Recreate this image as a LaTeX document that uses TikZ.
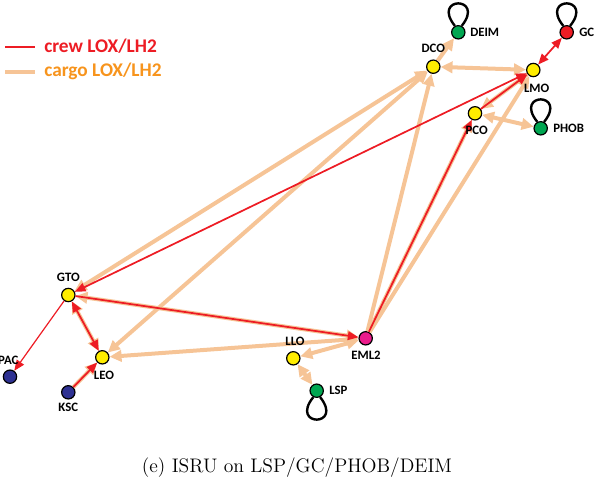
\documentclass[tikz,border=0pt]{standalone}
\usepackage{fontspec}
\newfontfamily\lblfont{Carlito}
\usetikzlibrary{arrows.meta}
\definecolor{crewred}{RGB}{237,28,36}
\definecolor{cargoor}{RGB}{246,196,150}
\definecolor{legor}{RGB}{247,148,29}
\definecolor{styel}{RGB}{255,237,0}
\definecolor{stgrn}{RGB}{0,166,81}
\definecolor{stblue}{RGB}{46,49,146}
\definecolor{stmag}{RGB}{236,28,140}
\definecolor{stred}{RGB}{237,28,36}

\begin{document}
\begin{tikzpicture}[x=0.75pt,y=0.75pt,yscale=-1,xscale=1,
    stn/.style={circle,draw=black,line width=0.9pt,minimum size=10pt,inner sep=0pt},
    lbl/.style={font=\lblfont\bfseries\fontsize{9.6}{10}\selectfont,inner sep=0.75pt},
    cargo/.style={draw=cargoor,line width=3pt,>={Triangle[length=9pt,width=8.5pt]}},
    crew/.style={draw=crewred,line width=1.3pt,>={Triangle[length=8pt,width=6.5pt]}},
    loopline/.style={draw=black,line width=1.8pt}]
    \useasboundingbox (0,0) rectangle (600,500);

    % legend
    \draw [crew] (5,46.7) -- (35,46.7) ;
    \draw [cargo] (5,72.3) -- (35,72.3) ;
    \node [anchor=west,inner sep=0pt,text=crewred,font=\lblfont\bfseries\fontsize{14.5}{15}\selectfont] (legcrew) at (44,46) {crew LOX/LH2};
    \node [anchor=west,inner sep=0pt,text=legor,font=\lblfont\bfseries\fontsize{14.5}{15}\selectfont] (legcargo) at (44,71) {cargo LOX/LH2};

    % stations
    \node [stn,fill=stgrn] (DEIM) at (458.3,32.3) {};
    \node [stn,fill=stred] (GC) at (566.7,32.3) {};
    \node [stn,fill=styel] (DCO) at (433.3,66.7) {};
    \node [stn,fill=styel] (LMO) at (533.3,70) {};
    \node [stn,fill=styel] (PCO) at (475,113.3) {};
    \node [stn,fill=stgrn] (PHOB) at (540.7,128.3) {};
    \node [stn,fill=styel] (GTO) at (68.3,295) {};
    \node [stn,fill=stblue] (PAC) at (10,376.7) {};
    \node [stn,fill=styel] (LEO) at (102.3,357.3) {};
    \node [stn,fill=stblue] (KSC) at (68.3,392.3) {};
    \node [stn,fill=styel] (LLO) at (293.3,358.3) {};
    \node [stn,fill=stmag] (EML2) at (365.7,338.3) {};
    \node [stn,fill=stgrn] (LSP) at (316.7,390.7) {};

    % ISRU loops
    \draw [loopline] (DEIM.118) .. controls +(-24,-30) and +(24,-30) .. (DEIM.62) ;
    \draw [loopline] (GC.118) .. controls +(-24,-30) and +(24,-30) .. (GC.62) ;
    \draw [loopline] (PHOB.118) .. controls +(-24,-30) and +(24,-30) .. (PHOB.62) ;
    \draw [loopline] (LSP.242) .. controls +(-24,30) and +(24,30) .. (LSP.298) ;

    % cargo LOX/LH2
    \draw [cargo,->] (DCO) -- (DEIM) ;
    \draw [cargo,<->] (DCO) -- (LMO) ;
    \draw [cargo,->] (LMO) -- (PCO) ;
    \draw [cargo,<->] (PCO) -- (PHOB) ;
    \draw [cargo,<->] (GTO) -- (DCO) ;
    \draw [cargo,<->] (LEO) -- (DCO) ;
    \draw [cargo,->] (EML2) -- (DCO) ;
    \draw [cargo,->] (EML2) -- (LMO) ;
    \draw [cargo,->] (EML2) -- (PCO) ;
    \draw [cargo,<->] (GTO) -- (EML2) ;
    \draw [cargo,<->] (LEO) -- (EML2) ;
    \draw [cargo,<->] (EML2) -- (LLO) ;
    \draw [cargo,<->] (LLO) -- (LSP) ;
    \draw [cargo,<->] (GTO) -- (LEO) ;
    \draw [cargo,->] (KSC) -- (LEO) ;

    % crew LOX/LH2
    \draw [crew,->,line width=0.9pt] (GTO) -- (PAC) ;
    \draw [crew,<->] (GTO) -- (LEO) ;
    \draw [crew,->] (KSC) -- (LEO) ;
    \draw [crew,->] (GTO) -- (EML2) ;
    \draw [crew,<->] (GTO) -- (LMO) ;
    \draw [crew,->] (EML2) -- (PCO) ;
    \draw [crew,->] (PCO) -- (LMO) ;
    \draw [crew,<->] (LMO) -- (GC) ;

    % labels
    \node [lbl,anchor=west] (tDEIM) at (469,32) {DEIM};
    \node [lbl,anchor=west] (tGC) at (578,32) {GC};
    \node [lbl] (tDCO) at (433.3,48.3) {DCO};
    \node [lbl] (tLMO) at (536.7,88.3) {LMO};
    \node [lbl] (tPCO) at (476.7,130) {PCO};
    \node [lbl,anchor=west] (tPHOB) at (552,128) {PHOB};
    \node [lbl] (tGTO) at (68.3,277.3) {GTO};
    \node [lbl] (tPAC) at (8.3,360) {PAC};
    \node [lbl] (tLEO) at (104,375) {LEO};
    \node [lbl] (tKSC) at (68.3,407) {KSC};
    \node [lbl] (tLLO) at (295,341.7) {LLO};
    \node [lbl] (tEML2) at (366,355) {EML2};
    \node [lbl,anchor=west] (tLSP) at (328,390) {LSP};

    % caption
    \node [anchor=base,inner sep=0pt,font=\fontsize{14.7}{17}\selectfont] (cap) at (297,472) {(e) ISRU on LSP/GC/PHOB/DEIM};
\end{tikzpicture}
\end{document}
